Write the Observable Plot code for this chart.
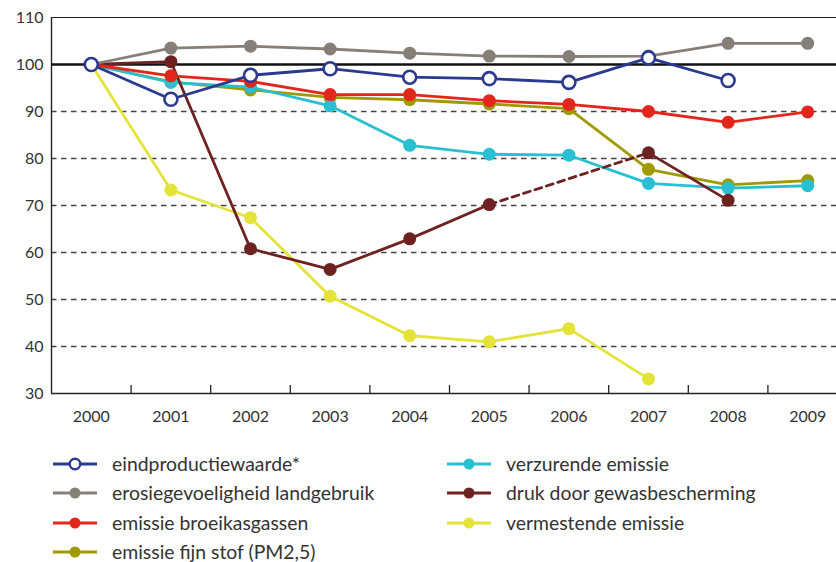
<!DOCTYPE html>
<html><head><meta charset="utf-8">
<script src="https://cdn.jsdelivr.net/npm/d3@7"></script>
<script src="https://cdn.jsdelivr.net/npm/@observablehq/plot@0.6"></script>
<style>
body{margin:0;background:#fff;font-family:Lato,"Noto Sans",sans-serif;overflow:hidden;}
#legend{position:relative;height:127px;width:836px;}
.item{position:absolute;display:flex;align-items:center;font-size:19.4px;line-height:18px;color:#333;height:18px;white-space:nowrap;}
.item svg{margin-right:15px;}
</style></head>
<body><div id="chart"></div><div id="legend"></div>
<script>
const years = [2000,2001,2002,2003,2004,2005,2006,2007,2008,2009];
const yTicks = [30,40,50,60,70,80,90,100,110];
const seriesNames = ["eindproductiewaarde*","erosiegevoeligheid landgebruik","emissie broeikasgassen","emissie fijn stof (PM2,5)","verzurende emissie","druk door gewasbescherming","vermestende emissie"];
const colors = ["#2b3990","#857f78","#e2261c","#a09a00","#27bfd1","#6e2121","#e3e339"];
const eindproductiewaarde = [100,92.6,97.7,99.1,97.3,97.0,96.2,101.4,96.6,null];
const erosie = [100,103.5,103.9,103.3,102.4,101.8,101.7,101.8,104.5,104.5];
const broeikas = [100,97.6,96.4,93.6,93.6,92.3,91.5,90.0,87.7,89.9];
const fijnstof = [100,96.3,94.6,93.0,92.5,91.6,90.6,77.7,74.4,75.3];
const verzurend = [100,96.2,95.2,91.2,82.8,80.9,80.7,74.7,73.7,74.2];
const druk = [100,100.6,60.8,56.4,62.9,70.2,null,81.2,71.1,null];
const vermestend = [100,73.3,67.4,50.7,42.3,41.0,43.8,33.1,null,null];

const allSeries = [eindproductiewaarde,erosie,broeikas,fijnstof,verzurend,druk,vermestend];
// drawing order bottom -> top
const drawOrder = [6,3,4,5,2,1,0];

const rows = [];
allSeries.forEach((vals,i)=>vals.forEach((v,j)=>{ if(v!=null) rows.push({s:i, year:years[j], v}); }));

const bounds = years.slice(0,-1).map(y=>y+0.5);
const marks = [];
marks.push(Plot.ruleY([40,50,60,70,80,90],{stroke:"#444",strokeWidth:1.4,strokeDasharray:"5.5,4.5"}));
marks.push(Plot.ruleY([110],{stroke:"#222",strokeWidth:1}));
marks.push(Plot.ruleY([30],{stroke:"#222",strokeWidth:1.4}));
marks.push(Plot.ruleX([1999.5],{stroke:"#222",strokeWidth:1.4}));
marks.push(Plot.ruleX(bounds,{x:d=>d,y1:30,y2:31.7,stroke:"#222",strokeWidth:1.3}));
marks.push(Plot.ruleY([100],{stroke:"#111",strokeWidth:2.6}));
for(const i of drawOrder){
  const data = rows.filter(r=>r.s===i);
  if(i===5){
    const solidA = data.filter(r=>r.year<=2005);
    const solidB = data.filter(r=>r.year>=2007);
    const dashed = data.filter(r=>r.year===2005||r.year===2007);
    marks.push(Plot.line(solidA,{x:"year",y:"v",stroke:colors[i],strokeWidth:2.8}));
    marks.push(Plot.line(solidB,{x:"year",y:"v",stroke:colors[i],strokeWidth:2.8}));
    marks.push(Plot.line(dashed,{x:"year",y:"v",stroke:colors[i],strokeWidth:2.8,strokeDasharray:"7,5"}));
  } else {
    marks.push(Plot.line(data,{x:"year",y:"v",stroke:colors[i],strokeWidth:2.8}));
  }
  if(i===0){
    marks.push(Plot.dot(data,{x:"year",y:"v",r:6.5,fill:"#fff",stroke:colors[i],strokeWidth:2.6}));
  } else {
    marks.push(Plot.dot(data,{x:"year",y:"v",r:6.5,fill:colors[i],stroke:"none"}));
  }
}
marks.push(Plot.axisY(yTicks,{tickSize:0,tickPadding:8,fontSize:16,fill:"#333",label:null}));
marks.push(Plot.axisX(years,{tickSize:0,tickPadding:17,fontSize:16,fill:"#333",label:null,tickFormat:d=>String(d)}));

const chart = Plot.plot({
  width:836, height:435,
  marginTop:17, marginBottom:42, marginLeft:51, marginRight:0,
  style:{fontFamily:"Lato, 'Noto Sans', sans-serif",background:"#fff",overflow:"hidden"},
  x:{domain:[1999.5,2009.5], range:[51,847], label:null},
  y:{domain:[30,110], range:[393,17], label:null},
  marks
});
document.getElementById("chart").appendChild(chart);

const legend = document.getElementById("legend");
const legendPos = [[0,0],[0,1],[0,2],[0,3],[1,0],[1,1],[1,2]];
seriesNames.forEach((name,i)=>{
  const [c,r] = legendPos[i];
  const div = document.createElement("div");
  div.className="item";
  div.style.left = (c===0?53:447)+"px";
  div.style.top = (20 + r*29.3)+"px";
  const open = i===0;
  div.innerHTML = `<svg width="44" height="16"><line x1="0" x2="44" y1="8" y2="8" stroke="${colors[i]}" stroke-width="2.8"/><circle cx="22" cy="8" r="${open?5.3:5.5}" fill="${open?'#fff':colors[i]}" stroke="${open?colors[i]:'none'}" stroke-width="2.4"/></svg><span>${name}</span>`;
  legend.appendChild(div);
});
</script></body></html>
